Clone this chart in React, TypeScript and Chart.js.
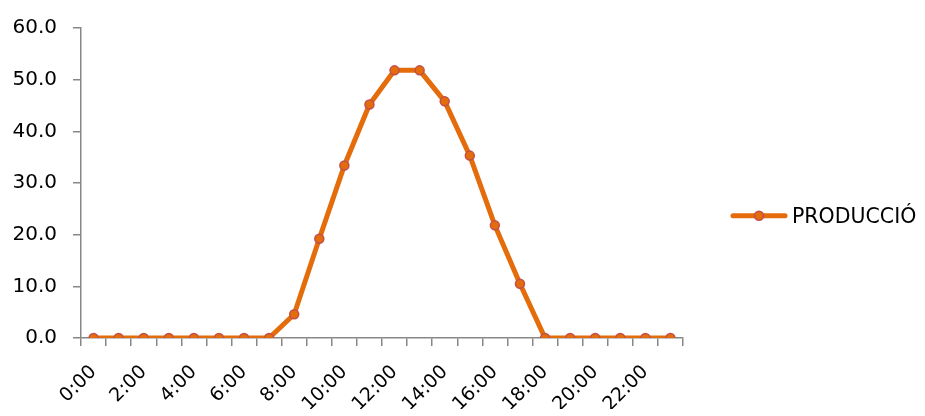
import React, { useEffect, useRef } from "react";
import { Chart, registerables } from "chart.js";

Chart.register(...registerables);

const hours: string[] = [
  "0:00", "1:00", "2:00", "3:00", "4:00", "5:00", "6:00", "7:00",
  "8:00", "9:00", "10:00", "11:00", "12:00", "13:00", "14:00", "15:00",
  "16:00", "17:00", "18:00", "19:00", "20:00", "21:00", "22:00", "23:00",
];

const production: number[] = [
  0, 0, 0, 0, 0, 0, 0, 0,
  4.6, 19.2, 33.4, 45.2, 51.8, 51.8, 45.8, 35.3,
  21.8, 10.5, 0, 0, 0, 0, 0, 0,
];

const seriesName = "PRODUCCIÓ";
const yMin = 0;
const yMax = 60;
const yStep = 10;

const LINE = "#E46C0A";
const POINT_BORDER = "#C0504D";
const AXIS = "#878787";
const FONT = "DejaVu Sans";

// Legend drawn to the right of the plot area (line + marker + label)
const sideLegend = {
  id: "sideLegend",
  afterDraw(chart: any) {
    const { ctx, chartArea } = chart;
    const ds = chart.data.datasets[0];
    const x0 = chartArea.right + 48;
    const cy = chart.height / 2 + 7.7;
    ctx.save();
    ctx.strokeStyle = ds.borderColor;
    ctx.lineWidth = 5;
    ctx.lineCap = "round";
    ctx.beginPath();
    ctx.moveTo(x0 + 2, cy);
    ctx.lineTo(x0 + 54, cy);
    ctx.stroke();
    ctx.beginPath();
    ctx.arc(x0 + 28, cy, 4.5, 0, Math.PI * 2);
    ctx.fillStyle = ds.pointBackgroundColor;
    ctx.fill();
    ctx.lineWidth = 1.5;
    ctx.strokeStyle = ds.pointBorderColor;
    ctx.stroke();
    ctx.fillStyle = "#000";
    ctx.font = `20.5px "${FONT}"`;
    ctx.textAlign = "left";
    ctx.textBaseline = "alphabetic";
    ctx.fillText(ds.label, x0 + 61, cy + 7);
    ctx.restore();
  },
};

export default function App() {
  const ref = useRef<HTMLCanvasElement | null>(null);

  useEffect(() => {
    if (!ref.current) return;
    Chart.defaults.font.family = FONT;
    Chart.defaults.font.size = 20;
    Chart.defaults.color = "#000";
    const chart = new Chart(ref.current, {
      type: "line",
      data: {
        labels: hours,
        datasets: [
          {
            label: seriesName,
            data: production,
            borderColor: LINE,
            backgroundColor: LINE,
            borderWidth: 5,
            tension: 0,
            pointRadius: 4.5,
            pointBackgroundColor: LINE,
            pointBorderColor: POINT_BORDER,
            pointBorderWidth: 1.5,
            fill: false,
          },
        ],
      },
      plugins: [sideLegend],
      options: {
        animation: false,
        responsive: false,
        layout: { padding: { left: 0, top: 22, right: 242, bottom: 7 } },
        plugins: {
          tooltip: { enabled: false },
          legend: { display: false },
        },
        scales: {
          x: {
            offset: true,
            grid: {
              offset: true,
              drawOnChartArea: false,
              drawTicks: true,
              tickLength: 8,
              color: AXIS,
              lineWidth: 1.5,
            },
            border: { color: AXIS, width: 1.5 },
            ticks: {
              autoSkip: false,
              minRotation: 45,
              maxRotation: 45,
              padding: 15,
              labelOffset: 0,
              font: { family: FONT, size: 19 },
              color: "#000",
              callback: (_v: any, i: number) => (i % 2 === 0 ? hours[i] : ""),
            },
            afterFit: (s: any) => {
              s.height = 71;
            },
          },
          y: {
            min: yMin,
            max: yMax,
            grid: {
              drawOnChartArea: false,
              drawTicks: true,
              tickLength: 8,
              color: AXIS,
              lineWidth: 1.5,
            },
            border: { color: AXIS, width: 1.5 },
            ticks: {
              stepSize: yStep,
              padding: 16,
              font: { family: FONT, size: 20 },
              color: "#000",
              callback: (v: any) => Number(v).toFixed(1),
            },
            afterFit: (s: any) => {
              s.width = 81;
            },
          },
        },
      },
    });
    return () => chart.destroy();
  }, []);

  return (
    <div style={{ position: "absolute", left: 0, top: 0, width: 925, height: 416 }}>
      <canvas ref={ref} width={925} height={416} style={{ display: "block" }} />
    </div>
  );
}
